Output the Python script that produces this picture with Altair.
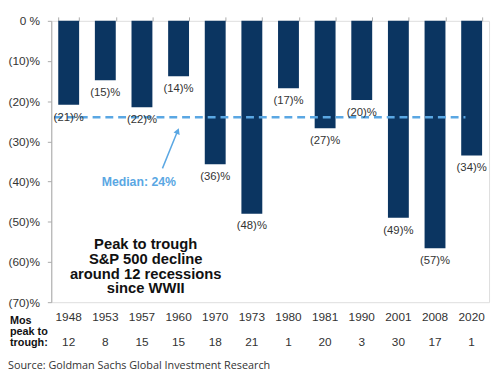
import altair as alt
import pandas as pd

years = ["1948", "1953", "1957", "1960", "1970", "1973", "1980", "1981", "1990", "2001", "2008", "2020"]
declines = [-20.9, -14.8, -21.5, -13.8, -35.7, -48.0, -16.8, -26.7, -19.7, -49.0, -56.6, -33.5]
value_labels = ["(21)%", "(15)%", "(22)%", "(14)%", "(36)%", "(48)%", "(17)%", "(27)%", "(20)%", "(49)%", "(57)%", "(34)%"]
months = ["12", "8", "15", "15", "18", "21", "1", "20", "3", "30", "17", "1"]
median_value = -24
median_label = "Median: 24%"
box_text = "Peak to trough\nS&P 500 decline\naround 12 recessions\nsince WWII"
mos_text = "Mos\npeak to\ntrough:"
source_text = "Source: Goldman Sachs Global Investment Research"
y_ticks = [0, -10, -20, -30, -40, -50, -60, -70]

NAVY = "#0B3561"
LIGHT = "#5AA7E3"
TXT = "#333333"

df = pd.DataFrame({"year": years, "value": declines, "label": value_labels, "month": months})

X = alt.X(
    "year:N", sort=years, title=None,
    scale=alt.Scale(paddingInner=0.43, paddingOuter=0.19),
    axis=alt.Axis(orient="top", labels=False, domain=False, ticks=True, tickBand="extent",
                  tickSize=4, tickColor="#aaaaaa", grid=False),
)
YSCALE = alt.Scale(domain=[-70, 0], nice=False)
YAXIS = alt.Axis(values=y_ticks, grid=False, domainColor="#aaaaaa", tickColor="#aaaaaa", tickSize=4,
                 labelPadding=8, labelFontSize=12, labelColor=TXT,
                 labelExpr="datum.value == 0 ? '0 %' : '(' + abs(datum.value) + ')%'")
Y = alt.Y("value:Q", title=None, scale=YSCALE, axis=YAXIS)

base = alt.Chart(df)
bars = base.mark_bar(color=NAVY).encode(x=X, y=Y)
labels = base.mark_text(dy=13, baseline="middle", fontSize=11.5, color=TXT).encode(x=X, y=Y, text="label:N")
year_text = base.mark_text(baseline="middle", fontSize=12, color=TXT).encode(x=X, y=alt.value(301), text="year:N")
month_text = base.mark_text(baseline="middle", fontSize=12, color=TXT).encode(x=X, y=alt.value(327), text="month:N")

med_df = pd.DataFrame({"value": [median_value], "t": [median_label]})
median_rule = alt.Chart(med_df).mark_rule(color=LIGHT, strokeWidth=2.5, strokeDash=[8, 5]).encode(
    y=Y, x=alt.value(3), x2=alt.value(421),
)
median_txt = alt.Chart(med_df).mark_text(color=LIGHT, fontWeight="bold", fontSize=12.5, align="center",
                                         baseline="middle").encode(
    x=alt.value(89), y=alt.value(164), text="t:N")
arrow = alt.Chart(med_df).mark_rule(color=LIGHT, strokeWidth=1.5).encode(
    x=alt.value(113), x2=alt.value(128), y=alt.value(150), y2=alt.value(113))
arrow_head = alt.Chart(med_df).mark_point(shape="triangle-up", angle=22, size=45, filled=True,
                                          color=LIGHT, opacity=1).encode(
    x=alt.value(128.5), y=alt.value(112))

box_df = pd.DataFrame({"t": [box_text]})
box = alt.Chart(box_df).mark_text(lineBreak="\n", lineHeight=15, fontSize=15, fontWeight="bold",
                                   color="#111111", align="center", baseline="top").encode(
    x=alt.value(96), y=alt.value(220), text="t:N")

mos_df = pd.DataFrame({"t": [mos_text]})
mos = alt.Chart(mos_df).mark_text(lineBreak="\n", lineHeight=11.5, fontSize=11, fontWeight="bold",
                                  color="#111111", align="left", baseline="top").encode(
    x=alt.value(-42), y=alt.value(299), text="t:N")

src_df = pd.DataFrame({"t": [source_text]})
src = alt.Chart(src_df).mark_text(font="Open Sans", fontSize=11, color=TXT, align="left",
                                  baseline="middle").encode(
    x=alt.value(-44), y=alt.value(351), text="t:N")

chart = alt.layer(
    bars, median_rule, labels, year_text, month_text, median_txt, arrow, arrow_head, box, mos, src
).properties(
    width=445, height=286,
    padding={"left": 44, "top": 10, "right": 3, "bottom": 72},
    autosize="none",
).configure_view(stroke="#aaaaaa", strokeWidth=1).configure(font="Liberation Sans")

chart.save("out.html", embed_options={"renderer": "svg", "actions": False})
